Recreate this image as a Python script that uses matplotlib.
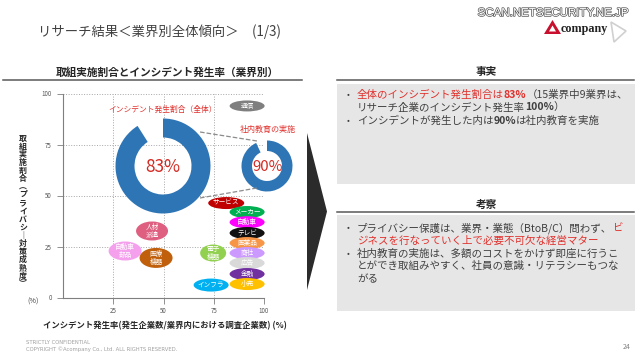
import matplotlib.pyplot as plt
from matplotlib.patches import Ellipse, Polygon, Rectangle
from matplotlib.lines import Line2D
import matplotlib.patheffects as pe

plt.rcParams['font.family'] = ['Noto Sans CJK JP', 'DejaVu Sans']

# industries: x = incident rate (%), y = share with measures in place (%)
industries = ['通信', 'サービス', 'メーカー', '自動車', 'テレビ', '医薬品', '商社', '広告',
              '金融', '小売', '電子\n機器', 'インフラ', '人材\n派遣', '自動車\n部品', '医療\n機器']
incident_rate = [91.6, 81.2, 91.6, 91.6, 91.6, 91.6, 91.6, 91.6,
                 91.6, 91.6, 74.7, 73.7, 44.3, 30.9, 46.3]
measure_rate = [93.9, 46.3, 41.9, 36.9, 31.6, 26.7, 21.8, 16.9,
                11.5, 6.6, 21.8, 6.1, 32.6, 22.8, 19.4]

overall_rate = 83    # インシデント発生割合（全体）
training_rate = 90   # 社内教育の実施
overall_ring = [91, 9]    # ring share as drawn on the slide
training_ring = [93, 7]

xticks = [25, 50, 75, 100]
yticks = [0, 25, 50, 75, 100]

# styles
bubble_colors = ['#7f7f7f', '#c00000', '#00b050', '#ff00ff', '#111111', '#f79646', '#cc99ff', '#d9d9d9',
                 '#7030a0', '#ffc000', '#92d050', '#00b0f0', '#de5f7f', '#f4a0ec', '#c0600c']
bubble_px = [(35, 11), (36, 12), (35, 12), (35, 12), (35, 12), (35, 12), (35, 12), (35, 12),
             (35, 12), (35, 12), (26, 17), (35, 13), (32, 19), (33, 19), (33, 20)]

RED = '#e0302c'
DARK = '#404040'
BLUE = '#2e75b6'

W, H = 640, 359
fig = plt.figure(figsize=(W / 100, H / 100), dpi=100)


def fx(x):
    return x / W


def fy(y):
    return 1 - y / H


# ---- header ----
fig.text(fx(38), fy(32), 'リサーチ結果＜業界別全体傾向＞　(1/3)', fontsize=9.6, color=DARK, va='center')
fig.text(fx(553), fy(13), 'SCAN.NETSECURITY.NE.JP', family='Liberation Sans', fontsize=8.3,
         color='white', ha='center', va='center',
         path_effects=[pe.withStroke(linewidth=1.0, foreground='#555555')])
fig.add_artist(Polygon([(fx(544), fy(34)), (fx(552.5), fy(20)), (fx(561), fy(34))],
                       closed=True, facecolor='#c8102e', edgecolor='none'))
fig.add_artist(Polygon([(fx(549), fy(31.5)), (fx(552.5), fy(25.5)), (fx(556), fy(31.5))],
                       closed=True, facecolor='white', edgecolor='none'))
fig.text(fx(561), fy(29), 'company', family='Liberation Serif', fontweight='bold', fontsize=8.7,
         color='#222222', va='center')
fig.add_artist(Polygon([(fx(611), fy(22)), (fx(626), fy(31)), (fx(614), fy(42))],
                       closed=True, facecolor='none', edgecolor='#d0d0d0', lw=1.2))

# ---- chart title ----
fig.text(fx(167), fy(72.5), '取組実施割合とインシデント発生率（業界別）', fontsize=7.7,
         fontweight='bold', color='#262626', ha='center', va='center')
fig.add_artist(Line2D([fx(3), fx(302)], [fy(80), fy(80)], color='#595959', lw=1.1))

# ---- scatter area ----
ax = fig.add_axes([fx(63), fy(297.5), 201 / W, 204 / H])
ax.set_xlim(0, 100)
ax.set_ylim(0, 100)
ax.set_xticks(xticks)
ax.set_yticks(yticks)
ax.grid(True, ls=':', lw=0.7, color='#a6a6a6')
ax.set_axisbelow(True)
for s in ['top', 'right']:
    ax.spines[s].set_visible(False)
for s in ['left', 'bottom']:
    ax.spines[s].set_color('#7f7f7f')
    ax.spines[s].set_linewidth(0.8)
ax.tick_params(length=4, width=0.6, color='#7f7f7f', labelsize=4.5, labelcolor='#595959')
ax.tick_params(axis='y', pad=4)
ax.tick_params(axis='x', pad=2.5)

sx, sy = 201 / 100, 204 / 100
for name, xv, yv, c, (wp, hp) in zip(industries, incident_rate, measure_rate, bubble_colors, bubble_px):
    ax.add_patch(Ellipse((xv, yv), wp / sx, hp / sy, facecolor=c, edgecolor='none',
                         zorder=3, clip_on=False))
    ax.text(xv, yv, name, ha='center', va='center', color='white', fontsize=4.8,
            linespacing=1.0, zorder=4, clip_on=False)

# axis labels
ylab = '取組実施割合︵プライバシ｜対策成熟度︶'
for i, ch in enumerate(ylab):
    fig.text(fx(23), fy(138 + i * 8.1), ch, ha='center', va='center', fontsize=5.7,
             fontweight='bold', color='#262626')
fig.text(fx(33), fy(302), '(%)', ha='center', va='center', fontsize=5.2, color='#404040')
fig.text(fx(165), fy(326), 'インシデント発生率(発生企業数/業界内における調査企業数) (%)',
         ha='center', va='center', fontsize=6, fontweight='bold', color='#262626')


# ---- donuts ----
def donut(cx, cy, r, hole, shares):
    a = fig.add_axes([fx(cx - r), fy(cy + r), 2 * r / W, 2 * r / H])
    a.pie(shares, colors=[BLUE, 'none'], startangle=90, counterclock=False,
          wedgeprops=dict(width=1 - hole / r, edgecolor='none'))
    a.set_xlim(-1, 1)
    a.set_ylim(-1, 1)
    a.axis('off')
    return a


donut(163, 166, 47.5, 28.5, overall_ring)
donut(267, 166, 25.5, 15, training_ring)
fig.text(fx(163), fy(167), f'{overall_rate}%', fontsize=12.5, color='#d42a22', ha='center', va='center')
fig.text(fx(267.5), fy(167), f'{training_rate}%', fontsize=10.8, color='#d42a22', ha='center', va='center')
fig.text(fx(163), fy(110), 'インシデント発生割合（全体）', fontsize=5.6, color=RED, ha='center', va='center')
fig.text(fx(268), fy(129), '社内教育の実施', fontsize=5.8, color=RED, ha='center', va='center')
for y0, y1 in [(132, 141), (198, 188)]:
    fig.add_artist(Line2D([fx(200), fx(257)], [fy(y0), fy(y1)], ls='--', color='#8c8c8c', lw=0.9))

# ---- arrow ----
fig.add_artist(Polygon([(fx(307), fy(133)), (fx(327), fy(211.5)), (fx(307), fy(290))],
                       closed=True, facecolor='#2b2b2b', edgecolor='none'))

# ---- right panels ----
fact_lines = [
    [('全体のインシデント発生割合は', RED, 'normal'), ('83%', RED, 'bold'),
     ('（15業界中9業界は、', DARK, 'normal')],
    [('リサーチ企業のインシデント発生率', DARK, 'normal'), ('100%', DARK, 'bold'), ('）', DARK, 'normal')],
    [('インシデントが発生した内は', DARK, 'normal'), ('90%', DARK, 'bold'),
     ('は社内教育を実施', DARK, 'normal')],
]
fact_bullets = [True, False, True]

insight_lines = [
    [('プライバシー保護は、業界・業態（BtoB/C）問わず、', DARK, 'normal'), ('ビ', RED, 'normal')],
    [('ジネスを行なっていく上で必要不可欠な経営マター', RED, 'normal')],
    [('社内教育の実施は、多額のコストをかけず即座に行うこ', DARK, 'normal')],
    [('とができ取組みやすく、社員の意識・リテラシーもつな', DARK, 'normal')],
    [('がる', DARK, 'normal')],
]
insight_bullets = [True, False, True, False, False]

renderer = fig.canvas.get_renderer()


def write_runs(x, y, parts, size=7.55):
    for s, col, wt in parts:
        t = fig.text(fx(x), fy(y), s, color=col, fontsize=size, fontweight=wt, va='center', ha='left')
        x += t.get_window_extent(renderer).width


def panel(title, ty, box_top, box_bot, lines, bullets, first_y, step):
    fig.text(fx(486), fy(ty), title, fontsize=7.7, fontweight='bold', color='#262626',
             ha='center', va='center')
    fig.add_artist(Line2D([fx(337), fx(634)], [fy(ty + 7.5), fy(ty + 7.5)], color='#595959', lw=1.1))
    fig.add_artist(Rectangle((fx(337), fy(box_bot)), 298 / W, (box_bot - box_top) / H,
                             facecolor='#e7e6e6', edgecolor='none'))
    for i, (parts, b) in enumerate(zip(lines, bullets)):
        y = first_y + i * step
        if b:
            fig.text(fx(348), fy(y), '•', fontsize=6, color=DARK, ha='center', va='center')
        write_runs(357, y, parts)


panel('事実', 72.5, 84, 184, fact_lines, fact_bullets, 94.5, 13)
panel('考察', 204.5, 215, 311, insight_lines, insight_bullets, 228, 12.8)

# ---- footer ----
fig.text(fx(26), fy(343), 'STRICTLY CONFIDENTIAL', family='DejaVu Sans', fontsize=3.8,
         color='#a0a0a0', va='center')
fig.text(fx(26), fy(349.5), 'COPYRIGHT ©Acompany Co., Ltd. ALL RIGHTS RESERVED.', family='DejaVu Sans',
         fontsize=3.8, color='#a0a0a0', va='center')
fig.text(fx(627), fy(347), '24', fontsize=5, color='#808080', ha='center', va='center')

fig.savefig('out.png', dpi=100)
